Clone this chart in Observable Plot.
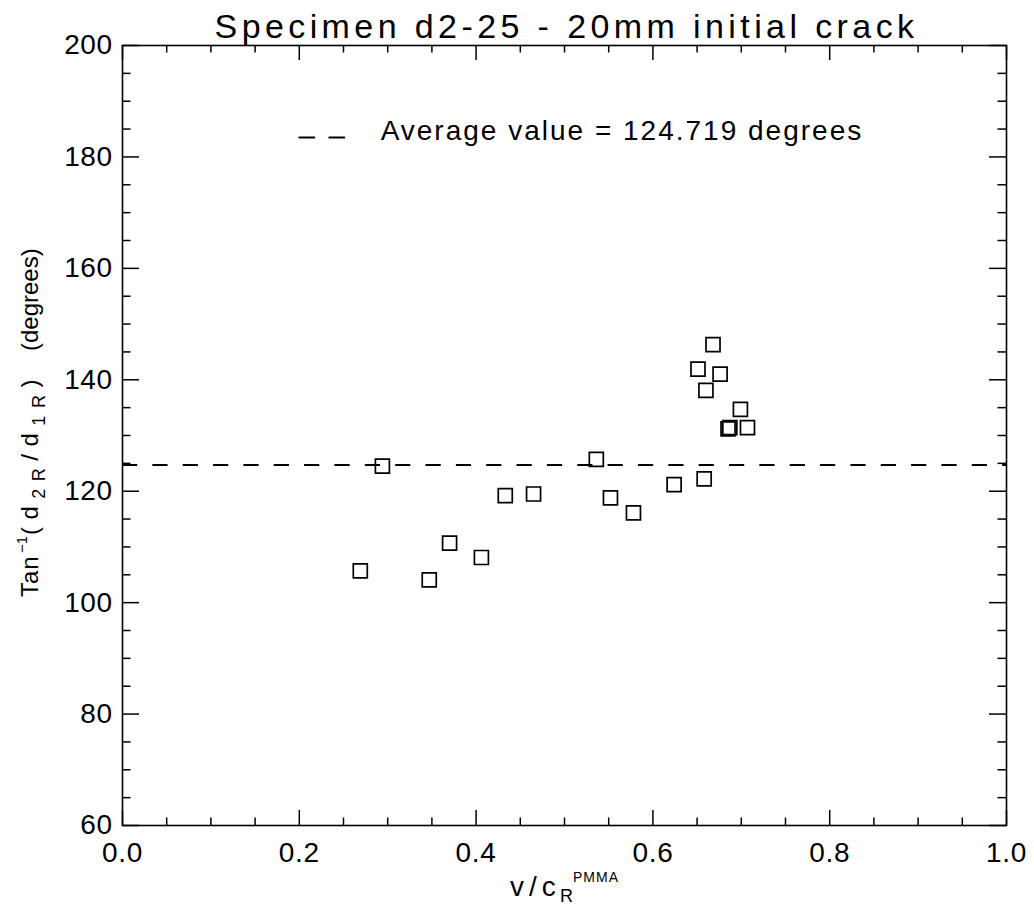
<!DOCTYPE html>
<html>
<head>
<meta charset="utf-8">
<script src="https://cdn.jsdelivr.net/npm/d3@7"></script>
<script src="https://cdn.jsdelivr.net/npm/@observablehq/plot@0.6"></script>
<style>
  html, body { margin: 0; padding: 0; background: #fff; }
  g[aria-label="x-axis tick label"] text { letter-spacing: 0.7px; }
  g[aria-label="y-axis tick label"] text { letter-spacing: 0.5px; }
</style>
</head>
<body>
<div id="chart"></div>
<script>
// ---- data ----
const vOverCR = [0.269, 0.294, 0.347, 0.370, 0.406, 0.433, 0.465, 0.536, 0.552, 0.578,
                 0.624, 0.651, 0.658, 0.660, 0.668, 0.676, 0.685, 0.687, 0.699, 0.707];
const angleDeg = [105.7, 124.5, 104.1, 110.7, 108.1, 119.2, 119.5, 125.7, 118.8, 116.1,
                  121.2, 141.9, 122.2, 138.1, 146.3, 141.0, 131.2, 131.4, 134.7, 131.4];
const averageValue = 124.719;

const titleText = "Specimen d2-25 - 20mm initial crack";
const legendLabel = "Average value = 124.719 degrees";
const legendLineX = [0.2, 0.2511];
const legendLineY = 183.5;
const legendTextX = 0.292;
const legendTextY = 184.6;

const xMajorTicks = [0.0, 0.2, 0.4, 0.6, 0.8, 1.0];
const xMinorTicks = [0.05, 0.1, 0.15, 0.25, 0.3, 0.35, 0.45, 0.5, 0.55, 0.65, 0.7, 0.75, 0.85, 0.9, 0.95];
const yMajorTicks = [60, 80, 100, 120, 140, 160, 180, 200];
const yMinorTicks = [65, 70, 75, 85, 90, 95, 105, 110, 115, 125, 130, 135, 145, 150, 155, 165, 170, 175, 185, 190, 195];

const points = vOverCR.map((v, i) => ({x: v, y: angleDeg[i]}));
const legendLine = legendLineX.map(x => ({x, y: legendLineY}));

// ---- layout ----
const W = 1034, H = 909;
const mL = 122, mR = 28, mT = 45, mB = 84;
const fw = W - mL - mR, fh = H - mT - mB;
const font = "'Liberation Sans', Arial, Helvetica, sans-serif";

const chart = Plot.plot({
  width: W, height: H,
  marginLeft: mL, marginRight: mR, marginTop: mT, marginBottom: mB,
  style: {fontFamily: font, background: "#fff", color: "#000"},
  x: {domain: [0, 1], label: null},
  y: {domain: [60, 200], label: null},
  marks: [
    // ticks pointing inward on all four sides
    Plot.ruleX(xMajorTicks, {insetTop: fh - 15, stroke: "#000", strokeWidth: 1.5}),
    Plot.ruleX(xMajorTicks, {insetBottom: fh - 15, stroke: "#000", strokeWidth: 1.5}),
    Plot.ruleX(xMinorTicks, {insetTop: fh - 7.5, stroke: "#000", strokeWidth: 1.5}),
    Plot.ruleX(xMinorTicks, {insetBottom: fh - 7.5, stroke: "#000", strokeWidth: 1.5}),
    Plot.ruleY(yMajorTicks, {insetRight: fw - 17, stroke: "#000", strokeWidth: 1.5}),
    Plot.ruleY(yMajorTicks, {insetLeft: fw - 17, stroke: "#000", strokeWidth: 1.5}),
    Plot.ruleY(yMinorTicks, {insetRight: fw - 8.5, stroke: "#000", strokeWidth: 1.5}),
    Plot.ruleY(yMinorTicks, {insetLeft: fw - 8.5, stroke: "#000", strokeWidth: 1.5}),
    Plot.axisX(xMajorTicks, {tickSize: 0, tickPadding: 17, fontSize: 28, tickFormat: d3.format(".1f"), label: null}),
    Plot.axisY(yMajorTicks, {tickSize: 0, tickPadding: 10, fontSize: 28, label: null}),
    // average line
    Plot.ruleY([averageValue], {stroke: "#000", strokeWidth: 2, strokeDasharray: "15.2,15.15"}),
    // data squares
    Plot.dot(points, {x: "x", y: "y", symbol: "square", r: 7.9, stroke: "#000", strokeWidth: 1.7, fill: "none"}),
    // legend
    Plot.line(legendLine, {x: "x", y: "y", stroke: "#000", strokeWidth: 2, strokeDasharray: "15,15"}),
    Plot.text([legendLabel], {x: legendTextX, y: legendTextY, text: d => d, textAnchor: "start", lineAnchor: "middle", fontSize: 28, fill: "#000"}),
    // title
    Plot.text([titleText], {frameAnchor: "top", text: d => d, lineAnchor: "bottom", dy: -8, fontSize: 34, fill: "#000"}),
    Plot.frame({stroke: "#000", strokeWidth: 1.6})
  ]
});

document.getElementById("chart").appendChild(chart);

const svg = d3.select(chart);
// letter spacing to mimic the wide vector font of the original
svg.selectAll("text").filter(function() { return this.textContent === titleText; })
  .style("letter-spacing", "4.4px").attr("dx", 2);
svg.selectAll("text").filter(function() { return this.textContent === legendLabel; })
  .style("letter-spacing", "2px");

// axis titles with sub/superscripts
const xl = svg.append("text").attr("font-family", font).attr("fill", "#000").attr("text-anchor", "start");
xl.append("tspan").attr("x", 510).attr("y", 896).attr("font-size", 28).style("letter-spacing", "5px").text("v/c");
xl.append("tspan").attr("x", 560).attr("y", 902).attr("font-size", 18).text("R");
xl.append("tspan").attr("x", 573).attr("y", 882).attr("font-size", 14).style("letter-spacing", "1px").text("PMMA");

const yl = svg.append("text").attr("font-family", font).attr("fill", "#000").attr("text-anchor", "start")
  .attr("transform", "translate(38,0) rotate(-90)").attr("font-size", 24);
yl.append("tspan").attr("x", -597).attr("y", 0).style("letter-spacing", "1px").text("Tan");
yl.append("tspan").attr("x", -553).attr("font-size", 15).attr("y", -11).text("\u22121");
yl.append("tspan").attr("x", -535).attr("y", 0).style("letter-spacing", "7.5px").text("(d");
yl.append("tspan").attr("font-size", 18).attr("y", 7).style("letter-spacing", "7.5px").text("2R");
yl.append("tspan").attr("y", 0).style("letter-spacing", "7.5px").text("/d");
yl.append("tspan").attr("font-size", 18).attr("y", 7).style("letter-spacing", "7.5px").text("1R");
yl.append("tspan").attr("y", 0).text(")");
yl.append("tspan").attr("x", -351).attr("y", 0).text("(degrees)");
</script>
</body>
</html>
